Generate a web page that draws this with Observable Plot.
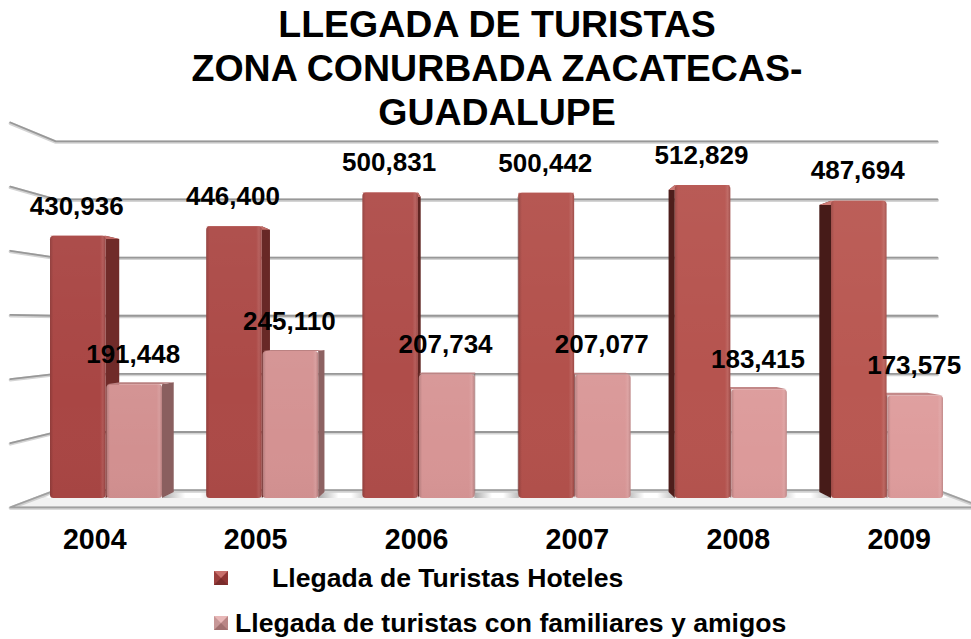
<!DOCTYPE html>
<html><head><meta charset="utf-8">
<script src="https://cdn.jsdelivr.net/npm/d3@7"></script>
<script src="https://cdn.jsdelivr.net/npm/@observablehq/plot@0.6"></script>
<style>
html,body{margin:0;padding:0;background:#fff;width:971px;height:639px;overflow:hidden;font-family:"Liberation Sans",Arial,sans-serif;color:#000}
#title{height:115px;margin:0;font-size:37.5px;font-weight:bold;line-height:44px;text-align:center;padding-left:23px;width:971px;padding-top:2px;box-sizing:border-box;position:relative;z-index:2}
#chart svg{display:block}
#legend{position:relative;height:79px;font-weight:bold;font-size:26.6px}
.sw{position:absolute;left:214px;width:0;height:0;border-style:solid;border-width:7.5px;box-sizing:content-box}
.lab{position:absolute;line-height:30px;white-space:nowrap}
</style></head><body>
<div id="title">LLEGADA DE TURISTAS<br>ZONA CONURBADA ZACATECAS-<br>GUADALUPE</div>
<div id="chart"></div>
<div id="legend"></div>
<script>
const years = [2004, 2005, 2006, 2007, 2008, 2009];
const hoteles = [430936, 446400, 500831, 500442, 512829, 487694];
const familiares = [191448, 245110, 207734, 207077, 183415, 173575];
const gridValues = [100000, 200000, 300000, 400000, 500000, 600000];
const seriesNames = ["Llegada de Turistas Hoteles", "Llegada de turistas con familiares y amigos"];

// perspective: depth factors around a vanishing point, in data units
const vx = 2006.503, vy = 290000;
const backWall = 0.952, frontEdge = 1.05, barBack = 0.965, labelPlane = 1.03;
const px = (x, f) => vx + (x - vx) * f;
const py = (v, f) => vy + (v - vy) * f;
const wallL = 2003.533, wallR = 2009.461, barW = 0.3585;
const base = 8000;                    // where the floor meets the bars' plane
const wall = v => base + 0.985 * v;   // a wall gridline's level in the bars' plane

const mix = (a, b, i) => d3.interpolateRgb(a, b)(i / 5);
const bars = years.flatMap((year, i) => [
  {id: "h" + year, year, i, s: 0, v: hoteles[i], x1: year - barW, x2: year - 0.003,
   front: mix("#a94644", "#b95852", i), side: mix("#702b29", "#461b18", i), top: mix("#c06a66", "#cf7c76", i)},
  {id: "f" + year, year, i, s: 1, v: familiares[i], x1: year + 0.003, x2: year + barW,
   front: mix("#d29090", "#de9c9c", i), side: mix("#8a5f5f", "#9a6c6c", i), top: mix("#b98080", "#c48a8a", i)}
]);

const sides = bars.flatMap(b => {
  const e = b.x2 < vx ? b.x2 : b.x1 > vx ? b.x1 : null;
  if (e === null) return [];
  return [
    {id: b.id, x: e, y1: base, y2: b.v, fill: b.side},
    {id: b.id, x: px(e, barBack), y1: py(base, barBack), y2: py(b.v, barBack), fill: b.side}
  ];
});
const tops = bars.flatMap(b => [
  {id: b.id, y: b.v, x1: b.x1, x2: b.x2, fill: b.top},
  {id: b.id, y: py(b.v, barBack), x1: px(b.x1, barBack), x2: px(b.x2, barBack), fill: b.top}
]);
const grid = gridValues.flatMap(v => [
  {v, x: px(wallL, frontEdge), y: py(wall(v), frontEdge)},
  {v, x: px(wallL, backWall), y: py(wall(v), backWall)},
  {v, x: px(wallR, backWall), y: py(wall(v), backWall)}
]);
const floor = [
  {y: py(base, backWall), x1: px(wallL, backWall), x2: px(wallR, backWall)},
  {y: py(base, frontEdge), x1: px(wallL, frontEdge), x2: px(wallR, frontEdge)}
];
const floorLine = [
  {x: px(wallR, frontEdge), y: py(base, frontEdge)},
  {x: px(wallL, frontEdge), y: py(base, frontEdge)},
  {x: px(wallL, backWall), y: py(base, backWall)},
  {x: px(wallR, backWall), y: py(base, backWall)},
  {x: px(wallR, frontEdge), y: py(base, frontEdge)}
];
const gaps = [wallL, ...years].flatMap((y, i, a) => {
  const l = i === 0 ? y : y + barW, r = i < years.length ? a[i + 1] - barW : wallR;
  return [
    {id: i, y: py(base, backWall), x1: px(l, backWall), x2: px(r, backWall)},
    {id: i, y: base, x1: l, x2: r}
  ];
});

const defs = () => {
  const g = document.createElementNS("http://www.w3.org/2000/svg", "g");
  g.innerHTML = `<defs>
  <linearGradient id="bevel" x1="0" x2="1" y1="0" y2="0">
    <stop offset="0" stop-color="#000" stop-opacity=".16"/>
    <stop offset=".06" stop-color="#000" stop-opacity="0"/>
    <stop offset=".9" stop-color="#fff" stop-opacity="0"/>
    <stop offset=".95" stop-color="#fff" stop-opacity=".1"/>
    <stop offset="1" stop-color="#000" stop-opacity=".14"/>
  </linearGradient>
  <linearGradient id="sheen" x1="0" x2="0" y1="0" y2="1">
    <stop offset="0" stop-color="#fff" stop-opacity=".04"/>
    <stop offset=".6" stop-color="#fff" stop-opacity="0"/>
    <stop offset="1" stop-color="#000" stop-opacity=".02"/>
  </linearGradient>
  <linearGradient id="gap" x1="0" x2="1" y1="0" y2="0">
    <stop offset="0" stop-color="#aaa"/>
    <stop offset=".4" stop-color="#fff"/>
    <stop offset=".65" stop-color="#fff"/>
    <stop offset="1" stop-color="#bbb"/>
  </linearGradient>
  </defs>`;
  return g;
};

const fmt = d3.format(",");
const chart = Plot.plot({
  width: 971, height: 445,
  margin: 0,
  x: {domain: [2004, 2009], range: [106, 887], axis: null},
  y: {domain: [0, 600000], range: [388, 16], axis: null},
  color: {type: "identity"},
  marks: [
    defs,
    Plot.line(grid, {x: "x", y: "y", z: "v", stroke: "#d4d4d4", strokeWidth: 3.4, dy: 0.8}),
    Plot.line(grid, {x: "x", y: "y", z: "v", stroke: "#989898", strokeWidth: 1.8}),
    Plot.areaX(floor, {y: "y", x1: "x1", x2: "x2", fill: "#f2f2f2"}),
    Plot.areaX(gaps, {y: "y", x1: "x1", x2: "x2", z: "id", fill: "url(#gap)"}),
    Plot.line(floorLine, {x: "x", y: "y", stroke: "#d0d0d0", strokeWidth: 3.4, dy: 0.8}),
    Plot.line(floorLine, {x: "x", y: "y", stroke: "#a0a0a0", strokeWidth: 1.8}),
    Plot.areaY(sides, {x: "x", y1: "y1", y2: "y2", z: "id", fill: "fill"}),
    Plot.areaX(tops, {y: "y", x1: "x1", x2: "x2", z: "id", fill: "fill"}),
    Plot.rect(bars, {x1: "x1", x2: "x2", y1: base, y2: "v", fill: "front", rx: 3.5}),
    Plot.rect(bars, {x1: "x1", x2: "x2", y1: base, y2: "v", fill: "url(#bevel)", rx: 3.5}),
    Plot.rect(bars, {x1: "x1", x2: "x2", y1: base, y2: "v", fill: "url(#sheen)", rx: 3.5}),
    Plot.text(bars, {
      x: d => (d.x1 + d.x2) / 2 - 0.01, y: "v", text: d => fmt(d.v), dy: -30,
      fontSize: 26, fontWeight: "bold", fontFamily: "Liberation Sans", fill: "#000"
    }),
    Plot.text(years, {
      x: d => px(d, labelPlane), y: () => base, text: d => String(d), dy: 41,
      fontSize: 28.6, fontWeight: "bold", fontFamily: "Liberation Sans", fill: "#000"
    })
  ]
});
document.getElementById("chart").append(chart);

const legend = document.getElementById("legend");
const swatches = [
  {top: 11, textTop: 3, left: 272, c: ["#c9706c", "#8f3534", "#7a2c2b", "#9a3e3c"]},
  {top: 56, textTop: 48, left: 235, c: ["#e8b8b8", "#b98585", "#a06f6f", "#c79797"]}
];
seriesNames.forEach((name, i) => {
  const s = swatches[i];
  const sw = document.createElement("div");
  sw.className = "sw";
  sw.style.top = s.top + "px";
  sw.style.borderColor = s.c.join(" ");
  const lab = document.createElement("div");
  lab.className = "lab";
  lab.style.left = s.left + "px";
  lab.style.top = s.textTop + "px";
  lab.textContent = name;
  legend.append(sw, lab);
});
</script>
</body></html>
